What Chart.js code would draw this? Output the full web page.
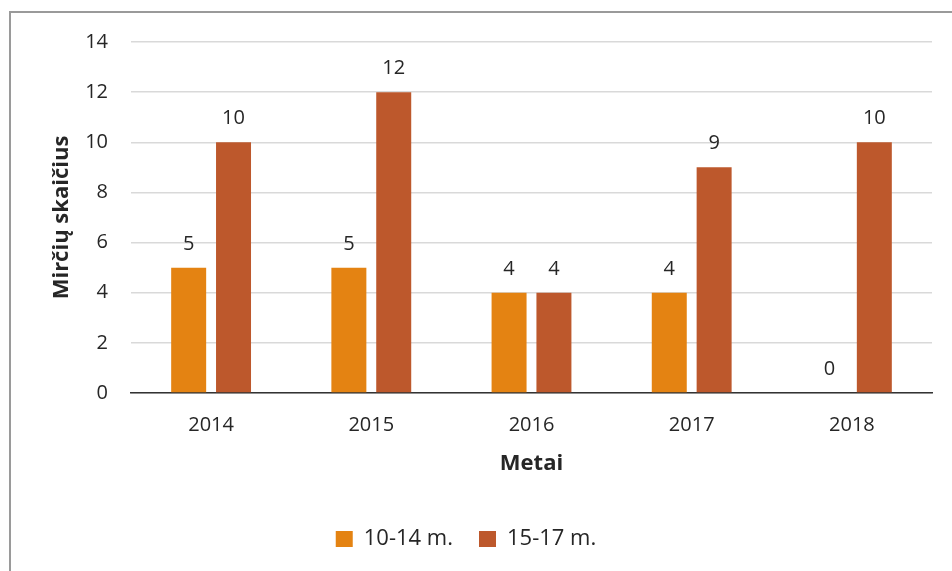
<!DOCTYPE html>
<html>
<head>
<meta charset="utf-8">
<script src="https://cdn.jsdelivr.net/npm/chart.js@4/dist/chart.umd.min.js"></script>
<style>
    html, body { margin: 0; padding: 0; background: #fff; }
    #wrap { position: relative; width: 952px; height: 571px; overflow: hidden; }
    #frame { position: absolute; left: 9px; top: 11px; width: 960px; height: 580px;
             border-left: 2px solid #9a9a9a; border-top: 2px solid #9a9a9a; }
    canvas { position: absolute; left: 0; top: 0; }
</style>
</head>
<body>
<div id="wrap">
    <div id="frame"></div>
    <canvas id="chart" width="952" height="571"></canvas>
</div>
<script>
var years = ["2014", "2015", "2016", "2017", "2018"];
var age10to14 = [5, 5, 4, 4, 0];
var age15to17 = [10, 12, 4, 9, 10];
var seriesNames = ["10-14 m.", "15-17 m."];
var yTicks = [0, 2, 4, 6, 8, 10, 12, 14];

var fontFamily = "'Open Sans', sans-serif";
var textColor = "#262626";

// value labels over the bars
var barLabels = {
    id: "barLabels",
    afterDatasetsDraw: function (chart) {
        var ctx = chart.ctx;
        ctx.save();
        ctx.font = "20px " + fontFamily;
        ctx.fillStyle = textColor;
        ctx.textAlign = "center";
        ctx.textBaseline = "alphabetic";
        chart.data.datasets.forEach(function (ds, i) {
            chart.getDatasetMeta(i).data.forEach(function (bar, j) {
                ctx.fillText(String(ds.data[j]), bar.x, bar.y - 18);
            });
        });
        ctx.restore();
    }
};

var ctx = document.getElementById("chart").getContext("2d");
new Chart(ctx, {
    type: "bar",
    data: {
        labels: years,
        datasets: [
            { label: seriesNames[0], data: age10to14, backgroundColor: "#E48312" },
            { label: seriesNames[1], data: age15to17, backgroundColor: "#BD582C" }
        ]
    },
    options: {
        responsive: false,
        animation: false,
        events: [],
        layout: { padding: { left: 0, top: 42, right: 20, bottom: 11 } },
        datasets: { bar: { categoryPercentage: 0.56, barPercentage: 0.78 } },
        plugins: {
            tooltip: { enabled: false },
            legend: {
                position: "bottom",
                labels: {
                    color: textColor,
                    font: { family: fontFamily, size: 22 },
                    boxWidth: 17,
                    boxHeight: 16,
                    padding: 26
                }
            }
        },
        scales: {
            x: {
                grid: { display: false, drawTicks: false },
                border: { display: true, color: "#333", width: 1.5 },
                ticks: { color: textColor, font: { family: fontFamily, size: 20 }, padding: 20 },
                title: {
                    display: true, text: "Metai", color: textColor,
                    font: { family: fontFamily, size: 22, weight: "bold" },
                    padding: { top: 4, bottom: 25 }
                },
                afterFit: function (scale) { scale.height = 109; }
            },
            y: {
                min: 0,
                max: 14,
                afterBuildTicks: function (scale) {
                    scale.ticks = yTicks.map(function (v) { return { value: v }; });
                },
                grid: { color: "#d9d9d9", lineWidth: 1.5, drawTicks: false },
                border: { display: false },
                ticks: { color: textColor, font: { family: fontFamily, size: 20 }, padding: 23 },
                title: {
                    display: true, text: "Mirčių skaičius", color: textColor,
                    font: { family: fontFamily, size: 22, weight: "bold" },
                    padding: { top: 49 }
                },
                afterFit: function (scale) { scale.width = 131; }
            }
        }
    },
    plugins: [barLabels]
});
</script>
</body>
</html>
